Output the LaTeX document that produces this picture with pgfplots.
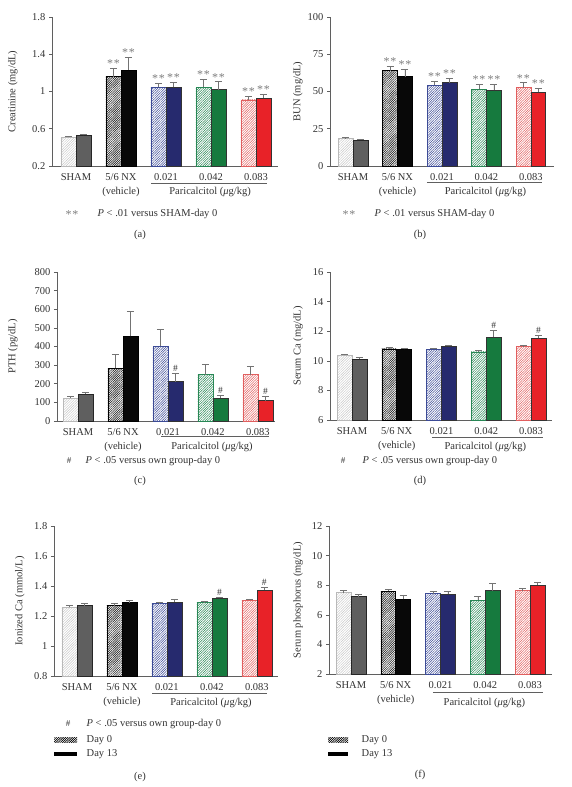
\documentclass[border=0pt]{standalone}
\usepackage{fontspec}
\setmainfont{Liberation Serif}
\usepackage{pgfplots}
\pgfplotsset{compat=1.18}
\usetikzlibrary{patterns.meta}
\definecolor{txt}{RGB}{50,50,50}
\definecolor{axg}{RGB}{95,95,95}
\definecolor{errg}{RGB}{115,115,115}
\definecolor{astg}{RGB}{125,125,125}
\definecolor{shamfill}{RGB}{95,95,95}
\definecolor{nxfill}{RGB}{8,8,8}
\definecolor{blufill}{RGB}{38,42,110}
\definecolor{grnfill}{RGB}{22,122,62}
\definecolor{redfill}{RGB}{232,34,40}
\definecolor{bluh}{RGB}{60,75,150}
\definecolor{grnh}{RGB}{40,135,85}
\definecolor{redh}{RGB}{225,95,95}
\pgfplotsset{
  panel/.style={
    scale only axis, anchor=south west,
    axis x line=bottom, axis y line=left,
    axis line style={-, draw=axg, line width=0.6pt},
    enlargelimits=false,
    tick align=outside, major tick length=3pt,
    ytick style={draw=axg, line width=0.6pt},
    xtick={0,1,2,3,4}, x tick style={draw=none},
    xticklabels={SHAM,{5/6 NX\\(vehicle)},0.021,0.042,0.083},
    xticklabel style={align=center, font=\fontsize{10.5}{13.5}\selectfont, text=txt, yshift=-1pt},
    yticklabel style={text=txt},
    ylabel style={anchor=center, text=txt},
    clip mode=individual,
    /pgf/number format/assume math mode=true,
  },
  errstyle/.style={
    /pgfplots/error bars/y dir=plus,
    /pgfplots/error bars/y explicit,
    /pgfplots/error bars/error bar style={errg, line width=0.6pt},
    /pgfplots/error bars/error mark options={errg, rotate=90, mark size=3.5pt, line width=0.6pt},
  },
  bar0/.style={ybar, bar width=0.3333, bar shift=0pt, line width=0.5pt, x filter/.expression={x-0.16667}, errstyle},
  bar13/.style={ybar, bar width=0.3333, bar shift=0pt, line width=0.5pt, x filter/.expression={x+0.16667}, errstyle},
  d0sham/.style={draw=gray!55, pattern={Lines[angle=45,distance=1.8pt,line width=0.45pt]}, pattern color=gray!45},
  d13sham/.style={draw=black!85, fill=shamfill},
  d0nx/.style={draw=black, pattern={Lines[angle=45,distance=1.6pt,line width=0.65pt]}, pattern color=black!85},
  d13nx/.style={draw=black, fill=nxfill},
  d0blu/.style={draw=bluh, pattern={Lines[angle=45,distance=1.7pt,line width=0.5pt]}, pattern color=bluh},
  d13blu/.style={draw=black!80, fill=blufill},
  d0grn/.style={draw=grnh, pattern={Lines[angle=45,distance=1.7pt,line width=0.5pt]}, pattern color=grnh},
  d13grn/.style={draw=black!80, fill=grnfill},
  d0red/.style={draw=redh, pattern={Lines[angle=45,distance=1.7pt,line width=0.5pt]}, pattern color=redh},
  d13red/.style={draw=black!80, fill=redfill},
}
% x, day0 value, day0 error, day13 value, day13 error, group
\newcommand{\grp}[6]{%
  \addplot[bar0, d0#6] coordinates {(#1,#2) +- (0,#3)};
  \addplot[bar13, d13#6] coordinates {(#1,#4) +- (0,#5)};
}
\newcommand{\stars}[3]{\node[text=astg, anchor=base, inner sep=0pt, yshift=0.5pt, font=\fontsize{12}{14}\selectfont] at ([xshift=#2]axis cs:#1,#3) {*\kern0.8pt*};}
\newcommand{\hashm}[3]{\node[text=txt, anchor=south, inner sep=1.5pt, font=\fontsize{9.5}{11}\selectfont] at ([xshift=#2]axis cs:#1,#3) {\#};}
\newcommand{\paric}[5]{% x1, x2, ymin, line offset, text offset
  \draw[axg, line width=0.6pt] ([yshift=-#4]axis cs:#1,#3) -- ([yshift=-#4]axis cs:#2,#3);
  \node[text=txt] at ([yshift=-#5]axis cs:2.98,#3) {Paricalcitol (\textit{μ}g/kg)};
}
\begin{document}
\fontsize{10.5}{12.6}\selectfont
\begin{tikzpicture}
\path[use as bounding box] (0,0) rectangle (571pt,-787pt);

% (a)
\begin{axis}[panel, at={(52pt,-166pt)}, width=226pt, height=149pt,
  xmin=-0.533, xmax=4.49, ymin=0.2, ymax=1.8, ytick={0.2,0.6,1,1.4,1.8},
  ylabel={Creatinine (mg/dL)}, ylabel style={at={(axis description cs:-0.173,0.5)}}]
\grp{0}{0.51}{0.01}{0.53}{0.015}{sham}
\grp{1}{1.16}{0.09}{1.23}{0.14}{nx}
\grp{2}{1.045}{0.045}{1.045}{0.055}{blu}
\grp{3}{1.045}{0.085}{1.02}{0.085}{grn}
\grp{4}{0.91}{0.04}{0.93}{0.04}{red}
\stars{1}{-7.5pt}{1.25}\stars{1}{7.5pt}{1.37}
\stars{2}{-7.5pt}{1.09}\stars{2}{7.5pt}{1.10}
\stars{3}{-7.5pt}{1.13}\stars{3}{7.5pt}{1.105}
\stars{4}{-7.5pt}{0.95}\stars{4}{7.5pt}{0.97}
\paric{1.67}{4.25}{0.2}{17pt}{26pt}
\end{axis}

% (b)
\begin{axis}[panel, at={(330pt,-166pt)}, width=224pt, height=149pt,
  xmin=-0.517, xmax=4.52, ymin=0, ymax=100, ytick={0,25,50,75,100},
  ylabel={BUN (mg/dL)}, ylabel style={at={(axis description cs:-0.143,0.5)}}]
\grp{0}{18.4}{0.8}{17.3}{0.9}{sham}
\grp{1}{64}{3}{60}{5}{nx}
\grp{2}{54.2}{2.8}{56}{3}{blu}
\grp{3}{51.5}{3.5}{51}{4}{grn}
\grp{4}{52.6}{3.4}{49.4}{2.8}{red}
\stars{1}{-7.5pt}{67}\stars{1}{7.5pt}{65}
\stars{2}{-7.5pt}{57}\stars{2}{7.5pt}{59}
\stars{3}{-7.5pt}{55}\stars{3}{7.5pt}{55}
\stars{4}{-7.5pt}{56}\stars{4}{7.5pt}{52.2}
\paric{1.66}{4.25}{0}{16pt}{26pt}
\end{axis}

% (c)
\begin{axis}[panel, at={(57pt,-421pt)}, width=218pt, height=149pt,
  xmin=-0.467, xmax=4.38, ymin=0, ymax=800, ytick={0,100,200,300,400,500,600,700,800},
  ylabel={PTH (pg/dL)}, ylabel style={at={(axis description cs:-0.202,0.5)}}]
\grp{0}{122}{9}{143}{11}{sham}
\grp{1}{283}{76}{454}{134}{nx}
\grp{2}{402}{88}{212}{43}{blu}
\grp{3}{249}{56}{122}{16}{grn}
\grp{4}{249}{43}{109}{22}{red}
\hashm{2}{7.5pt}{255}\hashm{3}{7.5pt}{138}\hashm{4}{7.5pt}{131}
\paric{1.84}{4.24}{0}{15pt}{26pt}
\end{axis}

% (d)
\begin{axis}[panel, at={(330pt,-420pt)}, width=222pt, height=148pt,
  xmin=-0.49, xmax=4.47, ymin=6, ymax=16, ytick={6,8,10,12,14,16},
  ylabel={Serum Ca (mg/dL)}, ylabel style={at={(axis description cs:-0.144,0.5)}}]
\grp{0}{10.37}{0.09}{10.12}{0.14}{sham}
\grp{1}{10.8}{0.1}{10.78}{0.07}{nx}
\grp{2}{10.78}{0.07}{10.98}{0.09}{blu}
\grp{3}{10.6}{0.08}{11.6}{0.48}{grn}
\grp{4}{10.95}{0.1}{11.52}{0.18}{red}
\hashm{3}{7.5pt}{12.08}\hashm{4}{7.5pt}{11.7}
\paric{1.79}{4.27}{6}{17pt}{27pt}
\end{axis}

% (e)
\begin{axis}[panel, at={(54pt,-676pt)}, width=224pt, height=150pt,
  xmin=-0.51, xmax=4.47, ymin=0.8, ymax=1.8, ytick={0.8,1,1.2,1.4,1.6,1.8},
  ylabel={Ionized Ca (mmol/L)}, ylabel style={at={(axis description cs:-0.152,0.5)}}]
\grp{0}{1.257}{0.013}{1.27}{0.013}{sham}
\grp{1}{1.27}{0.015}{1.29}{0.016}{nx}
\grp{2}{1.283}{0.011}{1.294}{0.016}{blu}
\grp{3}{1.29}{0.01}{1.317}{0.011}{grn}
\grp{4}{1.306}{0.008}{1.372}{0.018}{red}
\hashm{3}{7.5pt}{1.328}\hashm{4}{7.5pt}{1.39}
\paric{1.67}{4.22}{0.8}{17pt}{27pt}
\end{axis}

% (f)
\begin{axis}[panel, at={(329pt,-674pt)}, width=223pt, height=148pt,
  xmin=-0.49, xmax=4.49, ymin=2, ymax=12, ytick={2,4,6,8,10,12},
  ylabel={Serum phosphorus (mg/dL)}, ylabel style={at={(axis description cs:-0.139,0.5)}}]
\grp{0}{7.5}{0.13}{7.23}{0.13}{sham}
\grp{1}{7.6}{0.14}{7.05}{0.29}{nx}
\grp{2}{7.43}{0.13}{7.4}{0.16}{blu}
\grp{3}{6.98}{0.29}{7.63}{0.5}{grn}
\grp{4}{7.63}{0.16}{8.01}{0.21}{red}
\paric{1.83}{4.29}{2}{18pt}{29pt}
\end{axis}

% footnotes and panel letters
\begin{scope}[every node/.style={text=txt}]
\node[text=astg, font=\fontsize{12}{14}\selectfont] at (72pt,-215pt) {*\kern0.8pt*};
\node[anchor=west] at (94pt,-214pt) {\textit{P} < .01 versus SHAM-day 0};
\node at (140pt,-235pt) {(a)};
\node[text=astg, font=\fontsize{12}{14}\selectfont] at (349pt,-215pt) {*\kern0.8pt*};
\node[anchor=west] at (371pt,-214pt) {\textit{P} < .01 versus SHAM-day 0};
\node at (420pt,-235pt) {(b)};
\node[font=\small] at (69pt,-461pt) {\#};
\node[anchor=west] at (82pt,-461pt) {\textit{P} < .05 versus own group-day 0};
\node at (140pt,-481pt) {(c)};
\node[font=\small] at (343pt,-461pt) {\#};
\node[anchor=west] at (359pt,-461pt) {\textit{P} < .05 versus own group-day 0};
\node at (420pt,-481pt) {(d)};
\node[font=\small] at (68pt,-724pt) {\#};
\node[anchor=west] at (83pt,-724pt) {\textit{P} < .05 versus own group-day 0};
% legend (e)
\path[pattern={Lines[angle=45,distance=1.6pt,line width=0.65pt]}, pattern color=black] (54pt,-742.2pt) rectangle (77pt,-737.8pt);
\fill[black] (54pt,-756.2pt) rectangle (77pt,-751.8pt);
\node[anchor=west] at (83pt,-740pt) {Day 0};
\node[anchor=west] at (83pt,-754pt) {Day 13};
\node at (140pt,-777pt) {(e)};
% legend (f)
\path[pattern={Lines[angle=45,distance=1.6pt,line width=0.65pt]}, pattern color=black] (328pt,-742.2pt) rectangle (348pt,-737.8pt);
\fill[black] (328pt,-756.2pt) rectangle (348pt,-751.8pt);
\node[anchor=west] at (358pt,-740pt) {Day 0};
\node[anchor=west] at (358pt,-754pt) {Day 13};
\node at (420pt,-775pt) {(f)};
\end{scope}
\end{tikzpicture}
\end{document}
